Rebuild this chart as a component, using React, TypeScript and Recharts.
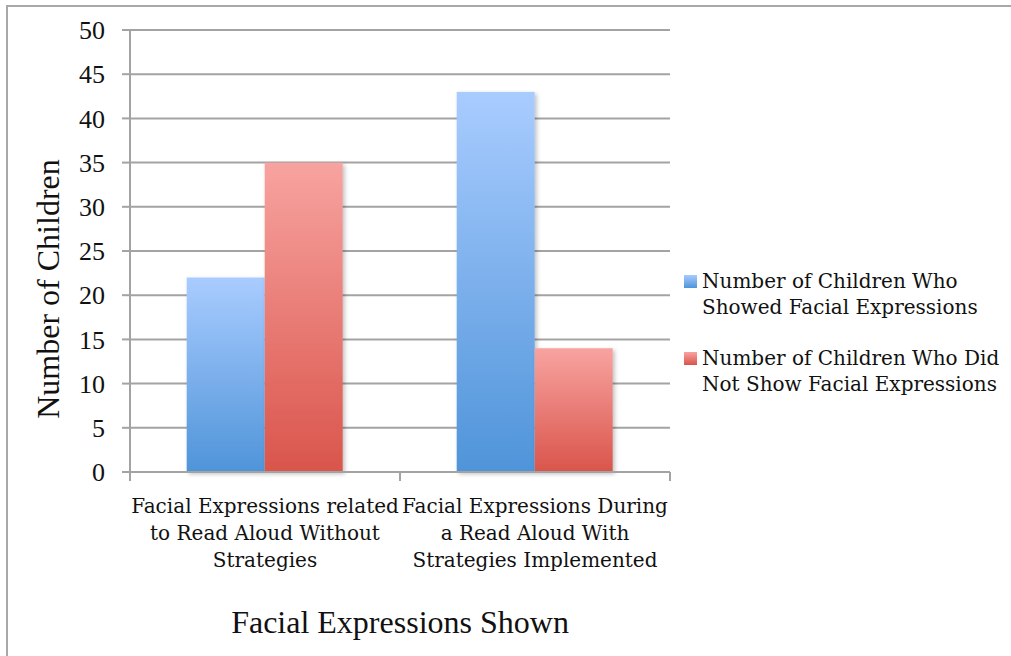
import React from "react"
import { BarChart, Bar, XAxis, YAxis, CartesianGrid } from "recharts"

const categories = [
  "Facial Expressions related to Read Aloud Without Strategies",
  "Facial Expressions During a Read Aloud With Strategies Implemented",
]
const categoryLines = [
  ["Facial Expressions related", "to Read Aloud Without", "Strategies"],
  ["Facial Expressions During", "a Read Aloud With", "Strategies Implemented"],
]
const showedValues = [22, 43]
const didNotShowValues = [35, 14]
const yTicks = [0, 5, 10, 15, 20, 25, 30, 35, 40, 45, 50]
const seriesNames = [
  "Number of Children Who Showed Facial Expressions",
  "Number of Children Who Did Not Show Facial Expressions",
]
const seriesSwatches = ["linear-gradient(#a8cbff, #4f94d9)", "linear-gradient(#f9a3a0, #d9534a)"]

const data = categories.map((c, i) => ({
  name: c,
  showed: showedValues[i],
  notShowed: didNotShowValues[i],
}))

const W = 1011
const H = 656
const PLOT_LEFT = 130
const PLOT_RIGHT = 670
const BAND = (PLOT_RIGHT - PLOT_LEFT) / categories.length
const AXIS = "#a3a3a3"
const TEXT = "#111"
const SERIF = "'Liberation Serif', 'Times New Roman', serif"
const CAMBRIA = "'DejaVu Serif', serif"

function XTick(props: any) {
  const { x, y, payload, index } = props
  const lines = categoryLines[index] || [payload.value]
  return (
    <g>
      <line x1={x - BAND / 2} y1={y - 8} x2={x - BAND / 2} y2={y + 1} stroke={AXIS} strokeWidth={2} />
      {index === categories.length - 1 && (
        <line x1={x + BAND / 2} y1={y - 8} x2={x + BAND / 2} y2={y + 1} stroke={AXIS} strokeWidth={2} />
      )}
      <text x={x} y={y} textAnchor="middle" fill={TEXT} fontFamily={CAMBRIA} fontSize={20}>
        {lines.map((l: string, i: number) => (
          <tspan key={i} x={x} y={y + 33 + i * 27}>
            {l}
          </tspan>
        ))}
      </text>
    </g>
  )
}

function ShadowRect(props: any) {
  const { x, y, width, height, fill } = props
  return <rect x={x} y={y} width={width} height={height} fill={fill} filter="url(#barShadow)" />
}

export default function App() {
  return (
    <div style={{ position: "absolute", left: 0, top: 0, width: W, height: H, overflow: "hidden", background: "#fff" }}>
      <div
        style={{
          position: "absolute",
          left: 6,
          top: 5,
          width: 1100,
          height: 700,
          border: "2px solid #a8a8a8",
        }}
      />
      <div style={{ position: "absolute", left: 0, top: 0 }}>
        <BarChart
          width={W}
          height={H}
          data={data}
          margin={{ top: 30, right: W - PLOT_RIGHT, bottom: 84, left: 70 }}
          barCategoryGap="21%"
          barGap={0}
        >
          <defs>
            <linearGradient id="blueGrad" x1="0" y1="0" x2="0" y2="1">
              <stop offset="0%" stopColor="#a9ccff" />
              <stop offset="100%" stopColor="#4f94d9" />
            </linearGradient>
            <linearGradient id="redGrad" x1="0" y1="0" x2="0" y2="1">
              <stop offset="0%" stopColor="#f8a3a0" />
              <stop offset="100%" stopColor="#d9554b" />
            </linearGradient>
            <filter id="barShadow" x="-10%" y="-5%" width="125%" height="115%">
              <feDropShadow dx="2" dy="2" stdDeviation="2" floodColor="#000" floodOpacity="0.25" />
            </filter>
          </defs>
          <CartesianGrid vertical={false} stroke={AXIS} strokeWidth={2} />
          <XAxis
            dataKey="name"
            height={100}
            tickLine={false}
            axisLine={{ stroke: AXIS, strokeWidth: 2 }}
            tick={<XTick />}
            interval={0}
          />
          <YAxis
            width={60}
            domain={[0, 50]}
            ticks={yTicks}
            interval={0}
            tickSize={8}
            tickMargin={17}
            tickLine={{ stroke: AXIS, strokeWidth: 2 }}
            axisLine={{ stroke: AXIS, strokeWidth: 2 }}
            tick={{ fill: TEXT, fontFamily: SERIF, fontSize: 26 }}
            label={{
              value: "Number of Children",
              angle: -90,
              position: "center",
              dx: -52,
              dy: 38,
              fill: TEXT,
              fontFamily: SERIF,
              fontSize: 32,
            }}
          />
          <Bar dataKey="showed" name={seriesNames[0]} fill="url(#blueGrad)" shape={<ShadowRect />} isAnimationActive={false} />
          <Bar dataKey="notShowed" name={seriesNames[1]} fill="url(#redGrad)" shape={<ShadowRect />} isAnimationActive={false} />
          <text x={400} y={633} textAnchor="middle" fill={TEXT} fontFamily={SERIF} fontSize={32}>
            Facial Expressions Shown
          </text>
        </BarChart>
      </div>
      <div
        style={{
          position: "absolute",
          left: 684,
          top: 268,
          width: 330,
          fontFamily: CAMBRIA,
          fontSize: 20,
          lineHeight: "26px",
          color: TEXT,
        }}
      >
        {seriesNames.map((name, i) => (
          <div key={i} style={{ display: "flex", alignItems: "flex-start", marginBottom: i === 0 ? 25 : 0 }}>
            <div
              style={{
                width: 13,
                height: 13,
                marginTop: 7,
                marginRight: 5,
                flex: "none",
                background: seriesSwatches[i],
              }}
            />
            <div style={{ width: 315 }}>{name}</div>
          </div>
        ))}
      </div>
    </div>
  )
}
